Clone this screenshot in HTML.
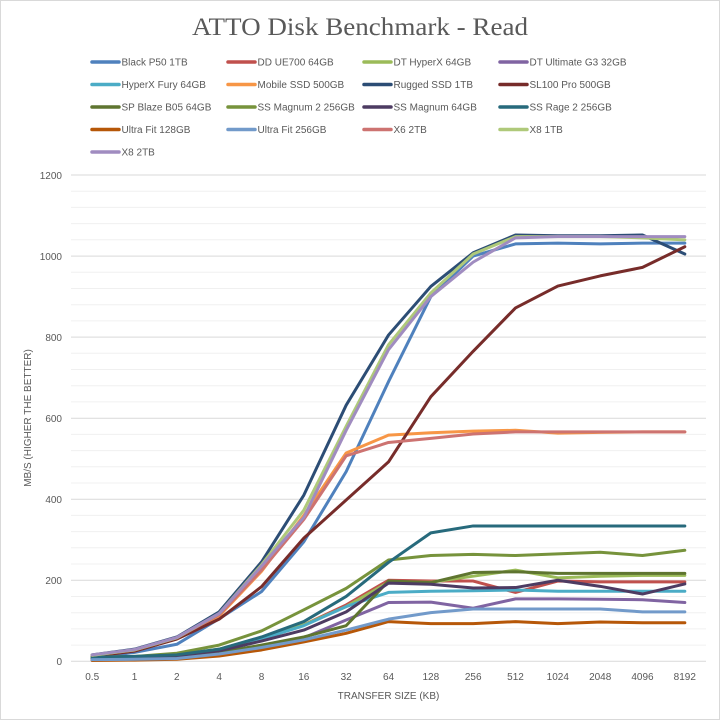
<!DOCTYPE html>
<html>
<head>
<meta charset="utf-8">
<style>
html,body{margin:0;padding:0;background:#fff;}
svg{display:block;}
text{font-family:"Liberation Sans",sans-serif;fill:#595959;}
</style>
</head>
<body>
<svg width="720" height="720" viewBox="0 0 720 720" xmlns="http://www.w3.org/2000/svg">
<rect x="0.5" y="0.5" width="719" height="719" fill="#fff" stroke="#d9d9d9" stroke-width="1"/>
<text x="360" y="35" text-anchor="middle" style="font-family:'Liberation Serif',serif;font-size:25px;fill:#595959" textLength="336" lengthAdjust="spacingAndGlyphs">ATTO Disk Benchmark - Read</text>

<!-- gridlines -->
<g stroke-width="1">
<line x1="71" x2="706" y1="645.1" y2="645.1" stroke="#f0f0f0"/>
<line x1="71" x2="706" y1="628.9" y2="628.9" stroke="#f0f0f0"/>
<line x1="71" x2="706" y1="612.7" y2="612.7" stroke="#f0f0f0"/>
<line x1="71" x2="706" y1="596.5" y2="596.5" stroke="#f0f0f0"/>
<line x1="71" x2="706" y1="580.2" y2="580.2" stroke="#d9d9d9"/>
<line x1="71" x2="706" y1="564.0" y2="564.0" stroke="#f0f0f0"/>
<line x1="71" x2="706" y1="547.8" y2="547.8" stroke="#f0f0f0"/>
<line x1="71" x2="706" y1="531.6" y2="531.6" stroke="#f0f0f0"/>
<line x1="71" x2="706" y1="515.4" y2="515.4" stroke="#f0f0f0"/>
<line x1="71" x2="706" y1="499.2" y2="499.2" stroke="#d9d9d9"/>
<line x1="71" x2="706" y1="483.0" y2="483.0" stroke="#f0f0f0"/>
<line x1="71" x2="706" y1="466.8" y2="466.8" stroke="#f0f0f0"/>
<line x1="71" x2="706" y1="450.6" y2="450.6" stroke="#f0f0f0"/>
<line x1="71" x2="706" y1="434.4" y2="434.4" stroke="#f0f0f0"/>
<line x1="71" x2="706" y1="418.2" y2="418.2" stroke="#d9d9d9"/>
<line x1="71" x2="706" y1="401.9" y2="401.9" stroke="#f0f0f0"/>
<line x1="71" x2="706" y1="385.7" y2="385.7" stroke="#f0f0f0"/>
<line x1="71" x2="706" y1="369.5" y2="369.5" stroke="#f0f0f0"/>
<line x1="71" x2="706" y1="353.3" y2="353.3" stroke="#f0f0f0"/>
<line x1="71" x2="706" y1="337.1" y2="337.1" stroke="#d9d9d9"/>
<line x1="71" x2="706" y1="320.9" y2="320.9" stroke="#f0f0f0"/>
<line x1="71" x2="706" y1="304.7" y2="304.7" stroke="#f0f0f0"/>
<line x1="71" x2="706" y1="288.5" y2="288.5" stroke="#f0f0f0"/>
<line x1="71" x2="706" y1="272.3" y2="272.3" stroke="#f0f0f0"/>
<line x1="71" x2="706" y1="256.1" y2="256.1" stroke="#d9d9d9"/>
<line x1="71" x2="706" y1="239.8" y2="239.8" stroke="#f0f0f0"/>
<line x1="71" x2="706" y1="223.6" y2="223.6" stroke="#f0f0f0"/>
<line x1="71" x2="706" y1="207.4" y2="207.4" stroke="#f0f0f0"/>
<line x1="71" x2="706" y1="191.2" y2="191.2" stroke="#f0f0f0"/>
<line x1="71" x2="706" y1="175.0" y2="175.0" stroke="#d9d9d9"/>
<line x1="71" x2="706" y1="661.3" y2="661.3" stroke="#d9d9d9"/>
</g>

<!-- y labels -->
<g font-size="10" text-anchor="end">
<text x="62" y="665">0</text>
<text x="62" y="584">200</text>
<text x="62" y="503">400</text>
<text x="62" y="422">600</text>
<text x="62" y="341">800</text>
<text x="62" y="260">1000</text>
<text x="62" y="179">1200</text>
</g>
<text transform="translate(31,418) rotate(-90)" font-size="10" text-anchor="middle">MB/S (HIGHER THE BETTER)</text>

<!-- x labels -->
<g font-size="10" text-anchor="middle">
<text x="92.2" y="680">0.5</text>
<text x="134.5" y="680">1</text>
<text x="176.8" y="680">2</text>
<text x="219.2" y="680">4</text>
<text x="261.5" y="680">8</text>
<text x="303.8" y="680">16</text>
<text x="346.2" y="680">32</text>
<text x="388.5" y="680">64</text>
<text x="430.8" y="680">128</text>
<text x="473.2" y="680">256</text>
<text x="515.5" y="680">512</text>
<text x="557.8" y="680">1024</text>
<text x="600.2" y="680">2048</text>
<text x="642.5" y="680">4096</text>
<text x="684.8" y="680">8192</text>
</g>
<text x="388.5" y="699" font-size="10" text-anchor="middle">TRANSFER SIZE (KB)</text>

<!-- series -->
<g transform="matrix(42.333 0 0 -0.40525 92.17 661.3)" fill="none" stroke-width="3" stroke-linejoin="round" stroke-linecap="round">
<polyline vector-effect="non-scaling-stroke" stroke="#4f81bd" points="0,8 1,22 2,42 3,105 4,172 5,295 6,468 7,690 8,900 9,1000 10,1030 11,1032 12,1030 13,1032 14,1032"/>
<polyline vector-effect="non-scaling-stroke" stroke="#c0504d" points="0,8 1,10 2,15 3,28 4,55 5,90 6,139 7,200 8,198 9,198 10,170 11,198 12,196 13,196 14,196"/>
<polyline vector-effect="non-scaling-stroke" stroke="#9bbb59" points="0,8 1,10 2,16 3,30 4,58 5,90 6,135 7,195 8,195 9,210 10,225 11,206 12,210 13,212 14,212"/>
<polyline vector-effect="non-scaling-stroke" stroke="#8064a2" points="0,3 1,4 2,6 3,15 4,30 5,58 6,102 7,145 8,146 9,131 10,154 11,154 12,153 13,152 14,145"/>
<polyline vector-effect="non-scaling-stroke" stroke="#4bacc6" points="0,6 1,8 2,14 3,27 4,55 5,88 6,135 7,170 8,173 9,174 10,176 11,173 12,173 13,173 14,173"/>
<polyline vector-effect="non-scaling-stroke" stroke="#f79646" points="0,15 1,28 2,58 3,112 4,222 5,360 6,514 7,558 8,564 9,568 10,570 11,563 12,565 13,566 14,566"/>
<polyline vector-effect="non-scaling-stroke" stroke="#2c4d75" points="0,16 1,30 2,60 3,122 4,245 5,410 6,632 7,805 8,925 9,1008 10,1052 11,1050 12,1050 13,1052 14,1005"/>
<polyline vector-effect="non-scaling-stroke" stroke="#772c2a" points="0,12 1,25 2,55 3,104 4,184 5,304 6,398 7,492 8,653 9,765 10,872 11,926 12,951 13,972 14,1023"/>
<polyline vector-effect="non-scaling-stroke" stroke="#5f7530" points="0,6 1,8 2,12 3,22 4,40 5,60 6,88 7,198 8,194 9,219 10,221 11,217 12,217 13,217 14,217"/>
<polyline vector-effect="non-scaling-stroke" stroke="#77933c" points="0,10 1,12 2,20 3,40 4,75 5,127 6,180 7,250 8,261 9,264 10,261 11,265 12,269 13,261 14,274"/>
<polyline vector-effect="non-scaling-stroke" stroke="#4d3b62" points="0,6 1,8 2,14 3,26 4,50 5,77 6,122 7,193 8,190 9,181 10,182 11,200 12,185 13,166 14,191"/>
<polyline vector-effect="non-scaling-stroke" stroke="#276a7c" points="0,10 1,12 2,16 3,30 4,60 5,98 6,160 7,244 8,317 9,334 10,334 11,334 12,334 13,334 14,334"/>
<polyline vector-effect="non-scaling-stroke" stroke="#b65708" points="0,2 1,3 2,5 3,13 4,28 5,48 6,69 7,98 8,93 9,93 10,98 11,93 12,97 13,95 14,95"/>
<polyline vector-effect="non-scaling-stroke" stroke="#729aca" points="0,4 1,5 2,7 3,18 4,34 5,53 6,77 7,104 8,120 9,129 10,129 11,129 12,129 13,122 14,122"/>
<polyline vector-effect="non-scaling-stroke" stroke="#cd7371" points="0,15 1,28 2,58 3,115 4,225 5,350 6,507 7,540 8,550 9,561 10,566 11,566 12,566 13,566 14,566"/>
<polyline vector-effect="non-scaling-stroke" stroke="#afc97a" points="0,15 1,28 2,58 3,118 4,238 5,373 6,580 7,781 8,909 9,1005 10,1048 11,1048 12,1048 13,1045 14,1040"/>
<polyline vector-effect="non-scaling-stroke" stroke="#a08cc0" points="0,16 1,29 2,59 3,118 4,235 5,355 6,570 7,769 8,900 9,985 10,1045 11,1048 12,1048 13,1048 14,1048"/>
</g>

<!-- legend -->
<g stroke-width="3.5" stroke-linecap="round">
<line x1="92" x2="119" y1="62" y2="62" stroke="#4f81bd"/>
<line x1="228" x2="255" y1="62" y2="62" stroke="#c0504d"/>
<line x1="364" x2="391" y1="62" y2="62" stroke="#9bbb59"/>
<line x1="500" x2="527" y1="62" y2="62" stroke="#8064a2"/>
<line x1="92" x2="119" y1="84.5" y2="84.5" stroke="#4bacc6"/>
<line x1="228" x2="255" y1="84.5" y2="84.5" stroke="#f79646"/>
<line x1="364" x2="391" y1="84.5" y2="84.5" stroke="#2c4d75"/>
<line x1="500" x2="527" y1="84.5" y2="84.5" stroke="#772c2a"/>
<line x1="92" x2="119" y1="107" y2="107" stroke="#5f7530"/>
<line x1="228" x2="255" y1="107" y2="107" stroke="#77933c"/>
<line x1="364" x2="391" y1="107" y2="107" stroke="#4d3b62"/>
<line x1="500" x2="527" y1="107" y2="107" stroke="#276a7c"/>
<line x1="92" x2="119" y1="129.5" y2="129.5" stroke="#b65708"/>
<line x1="228" x2="255" y1="129.5" y2="129.5" stroke="#729aca"/>
<line x1="364" x2="391" y1="129.5" y2="129.5" stroke="#cd7371"/>
<line x1="500" x2="527" y1="129.5" y2="129.5" stroke="#afc97a"/>
<line x1="92" x2="119" y1="152" y2="152" stroke="#a08cc0"/>
</g>
<g font-size="10">
<text x="121.5" y="65.5">Black P50 1TB</text>
<text x="257.5" y="65.5">DD UE700 64GB</text>
<text x="393.5" y="65.5">DT HyperX 64GB</text>
<text x="529.5" y="65.5">DT Ultimate G3 32GB</text>
<text x="121.5" y="88">HyperX Fury 64GB</text>
<text x="257.5" y="88">Mobile SSD 500GB</text>
<text x="393.5" y="88">Rugged SSD 1TB</text>
<text x="529.5" y="88">SL100 Pro 500GB</text>
<text x="121.5" y="110.5">SP Blaze B05 64GB</text>
<text x="257.5" y="110.5">SS Magnum 2 256GB</text>
<text x="393.5" y="110.5">SS Magnum 64GB</text>
<text x="529.5" y="110.5">SS Rage 2 256GB</text>
<text x="121.5" y="133">Ultra Fit 128GB</text>
<text x="257.5" y="133">Ultra Fit 256GB</text>
<text x="393.5" y="133">X6 2TB</text>
<text x="529.5" y="133">X8 1TB</text>
<text x="121.5" y="155.5">X8 2TB</text>
</g>
</svg>
</body>
</html>
